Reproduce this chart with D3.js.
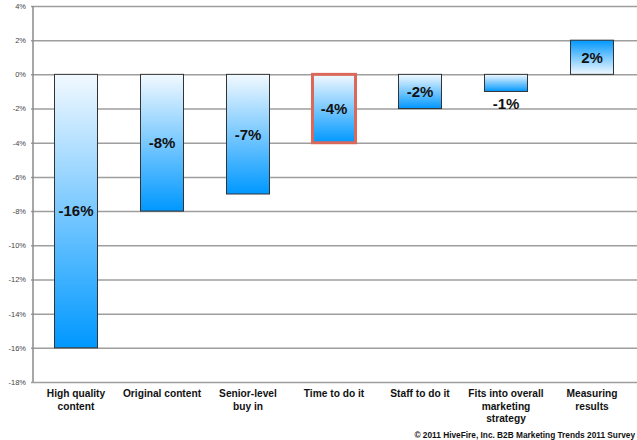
<!DOCTYPE html>
<html>
<head>
<meta charset="utf-8">
<script src="https://cdn.jsdelivr.net/npm/d3@7"></script>
<style>
  html, body { margin: 0; padding: 0; background: #fff; }
  svg { display: block; font-family: "Liberation Sans", Arial, sans-serif; }
</style>
</head>
<body>
<svg id="chart" width="637" height="440"></svg>
<script>
// Change in perceived importance, by content-marketing factor
const categories = [
  "High quality content", "Original content", "Senior-level buy in",
  "Time to do it", "Staff to do it", "Fits into overall marketing strategy",
  "Measuring results"
];
const categoryLines = [
  ["High quality", "content"], ["Original content"], ["Senior-level", "buy in"],
  ["Time to do it"], ["Staff to do it"], ["Fits into overall", "marketing", "strategy"],
  ["Measuring", "results"]
];
const values = [-16, -8, -7, -4, -2, -1, 2];
const tickValues = [4, 2, 0, -2, -4, -6, -8, -10, -12, -14, -16, -18];
const highlighted = ["Time to do it"];
const footnote = "\u00a9 2011 HiveFire, Inc. B2B Marketing Trends 2011 Survey";

const svg = d3.select("#chart");
const plotLeft = 33, plotRight = 635, plotTop = 6, plotBottom = 382;

const x = d3.scaleBand().domain(categories).range([plotLeft, plotRight])
  .paddingInner(0.5).paddingOuter(0.25);
const y = d3.scaleLinear().domain([-18, 4]).range([plotBottom, plotTop]);

// gradients: pale at the zero line, saturated blue at the bar's far end
const defs = svg.append("defs");
const gNeg = defs.append("linearGradient").attr("id", "gNeg")
  .attr("x1", 0).attr("y1", 0).attr("x2", 0).attr("y2", 1);
gNeg.append("stop").attr("offset", "0%").attr("stop-color", "#f2f9ff");
gNeg.append("stop").attr("offset", "100%").attr("stop-color", "#0098ff");
const gPos = defs.append("linearGradient").attr("id", "gPos")
  .attr("x1", 0).attr("y1", 1).attr("x2", 0).attr("y2", 0);
gPos.append("stop").attr("offset", "0%").attr("stop-color", "#f2f9ff");
gPos.append("stop").attr("offset", "100%").attr("stop-color", "#0098ff");

// horizontal gridlines with tick labels
const yAxis = d3.axisLeft(y).tickValues(tickValues)
  .tickSize(-(637 - plotLeft + 2)).tickPadding(6)
  .tickFormat(d => d + "%");
const gy = svg.append("g").attr("transform", `translate(${plotLeft - 2},0)`).call(yAxis);
gy.select(".domain").remove();
gy.selectAll(".tick line").attr("stroke", "#9e9e9e").attr("stroke-width", 1.5);
gy.selectAll(".tick text").attr("fill", "#444").attr("font-size", "7.5px")
  .attr("x", -5);

// vertical axis line
svg.append("line").attr("x1", plotLeft).attr("x2", plotLeft)
  .attr("y1", y(4)).attr("y2", y(-18))
  .attr("stroke", "#8a8a8a").attr("stroke-width", 1.5);

const data = categories.map((c, i) => ({ c, v: values[i], lines: categoryLines[i] }));

// bars
svg.append("g").selectAll("rect").data(data).join("rect")
  .attr("x", d => x(d.c))
  .attr("width", x.bandwidth())
  .attr("y", d => y(Math.max(0, d.v)))
  .attr("height", d => Math.abs(y(d.v) - y(0)))
  .attr("fill", d => d.v < 0 ? "url(#gNeg)" : "url(#gPos)")
  .attr("stroke", d => highlighted.includes(d.c) ? "#d9695b" : "#333")
  .attr("stroke-width", d => highlighted.includes(d.c) ? 3 : 1);

// value labels: centred in the bar, or just below it when the bar is too short
svg.append("g").selectAll("text").data(data).join("text")
  .attr("x", d => x(d.c) + x.bandwidth() / 2)
  .attr("y", d => {
    const h = Math.abs(y(d.v) - y(0));
    if (h < 24) return y(d.v) + 12;
    return (y(d.v) + y(0)) / 2;
  })
  .attr("dy", "0.36em")
  .attr("text-anchor", "middle")
  .attr("font-size", "15px").attr("font-weight", "bold").attr("fill", "#111")
  .text(d => d.v + "%");

// category labels
const cat = svg.append("g").selectAll("text").data(data).join("text")
  .attr("text-anchor", "middle")
  .attr("font-size", "10.2px").attr("font-weight", "bold").attr("fill", "#111");
cat.selectAll("tspan").data(d => d.lines.map(l => ({ l, x: x(d.c) + x.bandwidth() / 2 })))
  .join("tspan")
  .attr("x", d => d.x)
  .attr("y", (d, i) => 397 + i * 12.5)
  .text(d => d.l);

// source note
svg.append("text").attr("x", 635).attr("y", 438)
  .attr("text-anchor", "end").attr("font-size", "8.3px").attr("font-weight", "bold")
  .attr("fill", "#111").text(footnote);
</script>
</body>
</html>
